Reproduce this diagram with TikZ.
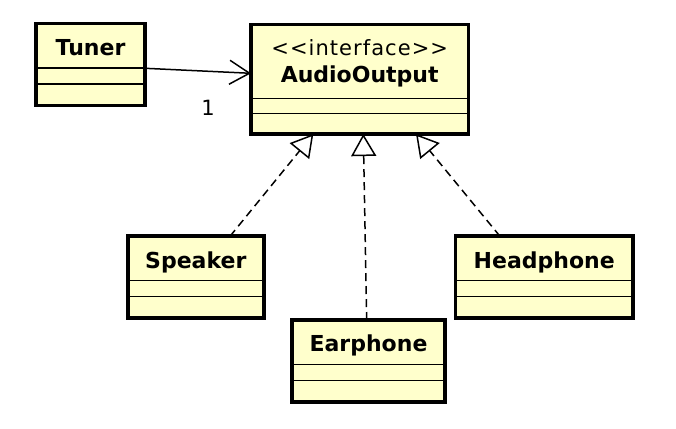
\documentclass[tikz,border=0pt]{standalone}
\usepackage{fontspec}
\setmainfont{DejaVu Sans}
\newfontfamily\stereofont[LetterSpace=5]{DejaVu Sans}
\usetikzlibrary{arrows.meta}
\definecolor{classfill}{RGB}{255,255,204}

\begin{document}
\begin{tikzpicture}
        [x=1pt, y=-1pt,
         classbox/.style={rectangle, draw=black, line width=3.8pt, fill=classfill, inner sep=0pt, outer sep=0pt, minimum height=82pt},
         classname/.style={anchor=base, inner sep=0pt, font=\fontsize{22}{26}\selectfont\bfseries},
         divider/.style={line width=1.6pt},
         realize/.style={-{Triangle[open, length=22pt, width=25pt]}, dash pattern=on 8pt off 5pt, line width=1.5pt},
         assoc/.style={-{Straight Barb[length=20pt, width=24pt]}, line width=1.5pt}]

        \useasboundingbox (0,0) rectangle (676,428);

        \foreach \n/\t/\x/\y/\w in {tuner/Tuner/90.5/64.5/109.5, speaker/Speaker/195.8/277.3/136, earphone/Earphone/368.5/361/153.5, headphone/Headphone/544.2/277.3/177.5}
        {
        \node[classbox, minimum width=\w] (\n) at (\x, \y) {};
        \node[classname] (\n-name) at ([yshift=-31.7pt]\n.north) {\t};
        \draw[divider] ([yshift=-44.3pt]\n.north west) -- ([yshift=-44.3pt]\n.north east);
        \draw[divider] ([yshift=-60.3pt]\n.north west) -- ([yshift=-60.3pt]\n.north east);
        }

        \node[classbox, minimum width=217.5, minimum height=109.5] (audio) at (359.7, 79.3) {};
        \node[anchor=base, inner sep=0pt, font=\fontsize{21}{25}\selectfont\stereofont] (audio-stereo) at ([yshift=-30.5pt]audio.north) {<<interface>>};
        \node[classname] (audio-name) at ([yshift=-58.2pt]audio.north) {AudioOutput};
        \draw[divider] ([yshift=-74pt]audio.north west) -- ([yshift=-74pt]audio.north east);
        \draw[divider] ([yshift=-89pt]audio.north west) -- ([yshift=-89pt]audio.north east);

        \draw[assoc] ([yshift=-3.8pt]tuner.east) -- ([yshift=6pt]audio.west);
        \node[inner sep=0pt, font=\fontsize{21}{25}\selectfont] (assoc-mult) at (208, 108) {1};

        \draw[realize] ([xshift=34.2pt]speaker.north) -- ([xshift=-46.4pt]audio.south);
        \draw[realize] ([xshift=-1.8pt]earphone.north) -- ([xshift=3.6pt]audio.south);
        \draw[realize] ([xshift=-44.2pt]headphone.north) -- ([xshift=56.3pt]audio.south);
    \end{tikzpicture}
\end{document}
